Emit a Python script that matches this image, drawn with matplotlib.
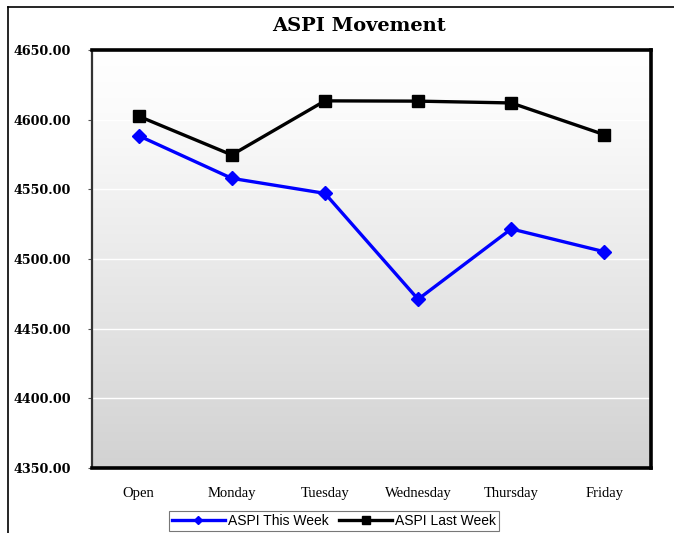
import numpy as np
import matplotlib
matplotlib.use("Agg")
import matplotlib.pyplot as plt
from matplotlib.lines import Line2D

days = ["Open", "Monday", "Tuesday", "Wednesday", "Thursday", "Friday"]
this_week = [4588.5, 4557.9, 4547.1, 4471.1, 4521.6, 4505.2]
last_week = [4602.5, 4574.7, 4613.5, 4613.3, 4612.0, 4589.2]
yticks = [4350, 4400, 4450, 4500, 4550, 4600, 4650]

fig = plt.figure(figsize=(6.74, 5.33), dpi=100)
fig.patch.set_facecolor("white")
ax = fig.add_axes([92/674, 1-468/533, (651-92)/674, (468-50)/533])

# gradient background, white at top to light grey at bottom
grad = np.linspace(0, 1, 256).reshape(-1, 1)
cm = matplotlib.colors.LinearSegmentedColormap.from_list(
    "g", [(0, "#ffffff"), (0.15, "#fbfbfb"), (1, "#d2d2d2")])
ax.imshow(grad, extent=[0, 1, 0, 1], transform=ax.transAxes, aspect="auto",
          cmap=cm, origin="upper", zorder=0)

x = np.arange(len(days))
ax.plot(x, this_week, color="#0000ff", lw=2.4, marker="D", ms=7, zorder=3,
        label="ASPI This Week")
ax.plot(x, last_week, color="black", lw=2.4, marker="s", ms=8, zorder=3,
        label="ASPI Last Week")

ax.set_xlim(-0.5, len(days) - 0.5)
ax.set_ylim(4350, 4650)
ax.set_yticks(yticks)
ax.set_yticklabels(["%.2f" % v for v in yticks], fontfamily="DejaVu Serif",
                   fontweight="bold", fontsize=9.2)
ax.set_xticks(x)
ax.set_xticklabels(days, fontfamily="Liberation Serif", fontsize=10.5)
ax.tick_params(axis="y", length=3, width=0.8, pad=12, color="#555555")
ax.tick_params(axis="x", length=0, pad=14)
ax.grid(axis="y", color="white", lw=1, zorder=1)
ax.set_axisbelow(True)

for s in ["top", "right", "bottom"]:
    ax.spines[s].set_linewidth(2.6)
    ax.spines[s].set_color("black")
ax.spines["left"].set_linewidth(1.6)
ax.spines["left"].set_color("#333333")

fig.text(359/674, 1-26/533, "ASPI Movement", ha="center", va="center",
         fontfamily="DejaVu Serif", fontweight="bold", fontsize=14)

leg = fig.legend(loc="upper center", bbox_to_anchor=(334/674, 1-511/533), ncol=2,
                 prop={"family": "Liberation Sans", "size": 10}, frameon=True,
                 fancybox=False, edgecolor="#555555", handlelength=3.8,
                 columnspacing=0.8, handletextpad=0.2, borderpad=0.2,
                 markerscale=0.65, borderaxespad=0)
leg.get_frame().set_linewidth(0.8)

# outer chart border (partly cropped)
fig.add_artist(Line2D([8/674, 1], [1-7/533, 1-7/533], color="black", lw=1.2,
                      transform=fig.transFigure))
fig.add_artist(Line2D([8/674, 8/674], [0, 1-7/533], color="black", lw=1.2,
                      transform=fig.transFigure))

fig.savefig("out.png", dpi=100)
